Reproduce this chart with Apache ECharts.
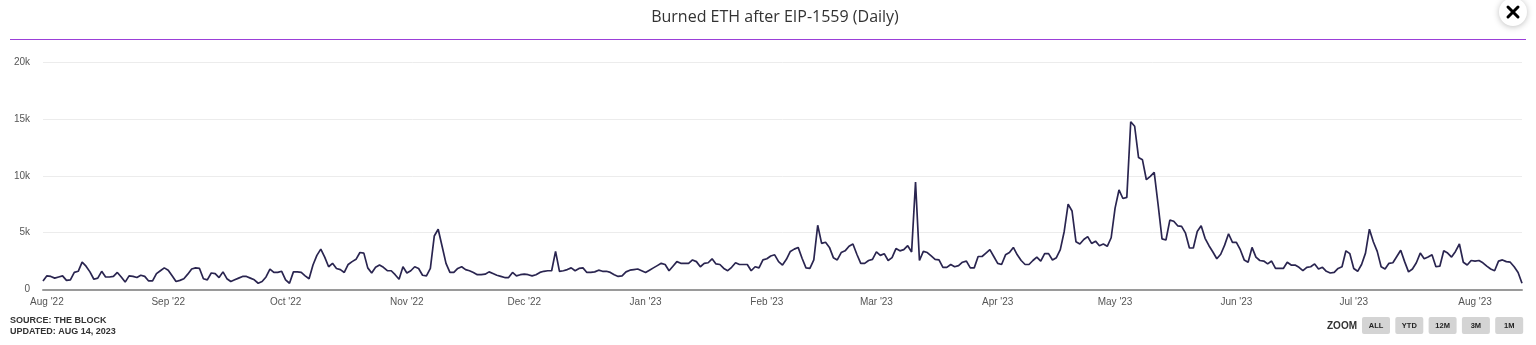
<!DOCTYPE html>
<html>
<head>
<meta charset="utf-8">
<script src="https://cdn.jsdelivr.net/npm/echarts@6/dist/echarts.min.js"></script>
<style>
html,body{margin:0;padding:0;background:#fff;}
#chart{width:1536px;height:345px;}
</style>
</head>
<body>
<div id="chart"></div>
<script>
// Daily burned ETH (in thousands of ETH), starting 31 Jul 2022
const startDate = '2022-07-31';
const burnedK = [
0.75,1.2,1.15,1.0,1.1,1.2,0.8,0.85,1.5,1.6,2.4,2.05,1.55,0.9,1.0,1.6,1.1,1.1,1.15,1.5,
1.1,0.65,1.2,1.15,1.05,1.25,1.15,0.75,0.75,1.4,1.65,1.9,1.7,1.2,0.7,0.8,0.95,1.35,1.8,1.9,
1.85,0.95,0.85,1.45,1.4,1.05,1.55,0.95,0.7,0.85,1.0,1.15,1.15,1.0,0.85,0.55,0.7,1.1,1.8,1.5,
1.5,1.6,0.85,0.55,1.55,1.55,1.5,1.2,0.95,2.15,3.0,3.55,2.85,2.0,2.3,1.85,1.75,1.5,2.2,2.45,
2.65,3.25,3.2,1.9,1.45,1.95,2.15,1.95,1.65,1.65,1.3,0.9,2.0,1.45,1.65,2.0,1.85,1.25,1.2,1.85,
4.7,5.3,3.8,2.3,1.5,1.5,1.85,2.0,1.75,1.65,1.5,1.3,1.3,1.35,1.55,1.4,1.25,1.15,1.05,1.05,
1.5,1.2,1.3,1.35,1.3,1.2,1.3,1.5,1.6,1.65,1.65,3.35,1.6,1.65,1.75,1.9,1.65,1.85,1.9,1.5,
1.5,1.55,1.7,1.6,1.6,1.5,1.3,1.15,1.2,1.55,1.7,1.75,1.8,1.65,1.5,1.7,1.9,2.1,2.3,2.2,
1.65,2.05,2.45,2.3,2.3,2.3,2.6,2.45,2.0,2.3,2.35,2.7,2.25,2.2,1.85,1.65,1.95,2.35,2.2,2.2,
2.2,1.65,2.0,1.9,2.6,2.7,2.95,3.05,2.45,2.15,2.65,3.35,3.55,3.7,2.75,1.9,1.85,2.6,5.65,4.05,
4.15,3.7,2.8,2.6,3.25,3.4,3.8,4.0,3.1,2.3,2.3,2.55,2.65,3.3,3.0,3.15,2.55,2.8,3.6,3.4,
3.5,3.85,3.3,9.45,2.55,3.35,3.25,2.95,2.65,2.6,1.95,1.95,2.2,2.0,2.1,2.4,2.5,1.9,1.9,2.9,
2.9,3.2,3.5,2.9,2.3,2.2,3.05,3.25,3.7,3.05,2.55,2.2,2.2,2.55,2.85,2.5,3.15,3.15,2.6,2.8,
3.5,5.1,7.5,6.9,4.2,4.0,4.4,4.65,4.05,4.25,3.85,4.0,3.8,4.55,7.15,8.75,8.0,8.1,14.75,14.35,
11.6,11.4,9.65,9.95,10.3,7.45,4.45,4.35,6.1,6.0,5.6,5.55,4.95,3.65,3.65,5.1,5.6,4.5,3.85,3.3,
2.7,3.1,3.9,4.9,4.15,4.15,3.5,2.6,2.4,3.7,2.85,2.55,2.5,2.25,2.5,1.85,1.85,1.85,2.4,2.15,
2.15,1.95,1.65,1.95,2.0,2.25,1.8,1.95,1.6,1.45,1.5,1.85,2.0,3.4,3.15,1.85,1.6,2.2,3.2,5.3,
4.2,3.35,2.0,1.8,2.3,2.35,2.9,3.45,2.45,1.55,1.8,2.35,3.2,2.7,2.85,3.05,2.0,2.05,3.4,3.2,
2.85,3.35,4.0,2.4,2.15,2.55,2.5,2.55,2.35,2.05,1.8,1.65,2.5,2.6,2.45,2.4,2.0,1.5,0.55
];
const yTicks = [0, 5000, 10000, 15000, 20000];
const monthNames = ['Jan','Feb','Mar','Apr','May','Jun','Jul','Aug','Sep','Oct','Nov','Dec'];
const zoomButtons = ['ALL','YTD','12M','3M','1M'];

const t0 = Date.parse(startDate + 'T00:00:00Z');
const dates = burnedK.map((_, i) => new Date(t0 + i * 86400000).toISOString().slice(0, 10));
const values = burnedK.map(v => Math.round(v * 1000));

const chart = echarts.init(document.getElementById('chart'), null, {renderer: 'canvas'});

const btnGraphics = [];
const btnX0 = 1362, btnStep = 33.3;
zoomButtons.forEach((b, i) => {
  const x = btnX0 + i * btnStep;
  btnGraphics.push({
    type: 'rect', left: x, top: 317, shape: {width: 28, height: 17, r: 2},
    style: {fill: '#d4d4d4'}, silent: true
  });
  btnGraphics.push({
    type: 'text', x: x + 14, y: 326,
    style: {text: b, fill: '#222', font: 'bold 7.5px "Liberation Sans", Arial, sans-serif',
            textAlign: 'center', textVerticalAlign: 'middle'}, silent: true
  });
});

const option = {
  backgroundColor: '#ffffff',
  animation: false,
  grid: {left: 43, right: 14, top: 62, bottom: 55.5, containLabel: false},
  xAxis: {
    type: 'category',
    data: dates,
    boundaryGap: false,
    axisLine: {show: true, lineStyle: {color: '#9a9a9a', width: 2}},
    axisTick: {show: false},
    splitLine: {show: false},
    axisLabel: {
      interval: (idx, val) => val.slice(8, 10) === '01',
      formatter: (val) => {
        const m = parseInt(val.slice(5, 7), 10) - 1;
        return monthNames[m] + " '" + val.slice(2, 4);
      },
      color: '#555', fontSize: 10, margin: 8,
      fontFamily: '"Liberation Sans", Arial, sans-serif'
    }
  },
  yAxis: {
    type: 'value',
    min: yTicks[0], max: yTicks[yTicks.length - 1], interval: yTicks[1] - yTicks[0],
    axisLine: {show: false},
    axisTick: {show: false},
    splitLine: {show: true, lineStyle: {color: '#ececec', width: 1}},
    axisLabel: {
      formatter: v => v === 0 ? '0' : (v / 1000) + 'k',
      color: '#555', fontSize: 10, margin: 13,
      fontFamily: '"Liberation Sans", Arial, sans-serif'
    }
  },
  series: [{
    type: 'line',
    data: values,
    showSymbol: false,
    symbol: 'none',
    lineStyle: {color: '#2a2550', width: 1.7},
    smooth: false,
    z: 5
  }],
  graphic: [
    {type: 'text', x: 775, y: 17,
     style: {text: 'Burned ETH after EIP-1559 (Daily)', fill: '#333',
             font: '16px "Open Sans", sans-serif', textAlign: 'center', textVerticalAlign: 'middle'}},
    {type: 'line', shape: {x1: 10, y1: 39.5, x2: 1526, y2: 39.5},
     style: {stroke: '#9b3fd8', lineWidth: 1.2}},
    {type: 'circle', shape: {cx: 1513, cy: 12, r: 14},
     style: {fill: '#fff', shadowBlur: 6, shadowColor: 'rgba(0,0,0,0.25)', shadowOffsetY: 1}},
    {type: 'line', shape: {x1: 1508, y1: 7, x2: 1518, y2: 17}, style: {stroke: '#000', lineWidth: 3, lineCap: 'round'}},
    {type: 'line', shape: {x1: 1518, y1: 7, x2: 1508, y2: 17}, style: {stroke: '#000', lineWidth: 3, lineCap: 'round'}},
    {type: 'text', x: 10, y: 321,
     style: {text: 'SOURCE: THE BLOCK', fill: '#333', font: 'bold 9px "Liberation Sans", Arial, sans-serif',
             textVerticalAlign: 'middle'}},
    {type: 'text', x: 10, y: 332,
     style: {text: 'UPDATED: AUG 14, 2023', fill: '#333', font: 'bold 9px "Liberation Sans", Arial, sans-serif',
             textVerticalAlign: 'middle'}},
    {type: 'text', x: 1357, y: 326,
     style: {text: 'ZOOM', fill: '#333', font: 'bold 10px "Liberation Sans", Arial, sans-serif',
             textAlign: 'right', textVerticalAlign: 'middle'}}
  ].concat(btnGraphics)
};
chart.setOption(option);
</script>
</body>
</html>
